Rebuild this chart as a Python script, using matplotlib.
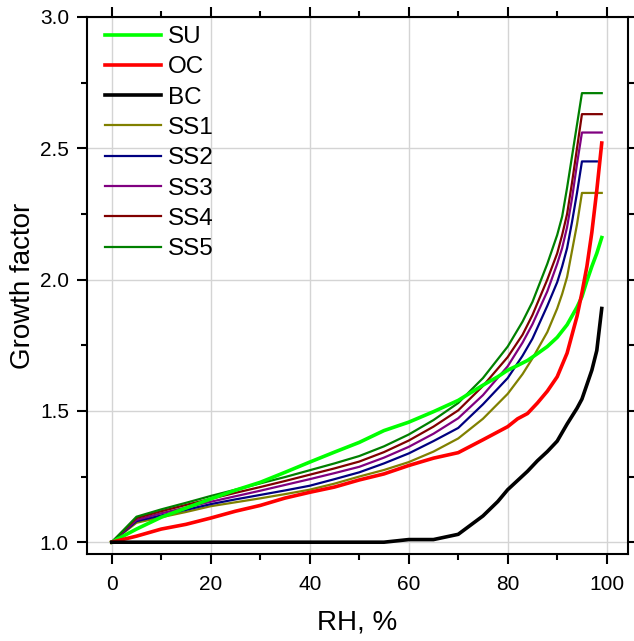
import numpy as np
import matplotlib
matplotlib.use('Agg')
import matplotlib.pyplot as plt
from matplotlib.ticker import MultipleLocator

plt.rcParams['font.family'] = ['Liberation Sans', 'DejaVu Sans']

# ===============================================================================
# growth factor vs relative humidity

rh_ae = [0, 5, 10, 15, 20, 25, 30, 35, 40, 45, 50, 55, 60, 65, 70, 75, 78, 80, 82, 84, 86,
         88, 90, 92, 94, 95, 96, 97, 98, 99]
su = [1.0, 1.05, 1.095, 1.13, 1.165, 1.198, 1.228, 1.266, 1.305, 1.343, 1.38, 1.425, 1.457,
      1.497, 1.54, 1.598, 1.63, 1.655, 1.673, 1.692, 1.718, 1.745, 1.78, 1.828, 1.895,
      1.935, 1.995, 2.05, 2.1, 2.16]
oc = [1.0, 1.023, 1.05, 1.068, 1.092, 1.118, 1.14, 1.168, 1.19, 1.21, 1.237, 1.26, 1.292,
      1.32, 1.341, 1.39, 1.42, 1.44, 1.47, 1.49, 1.53, 1.575, 1.63, 1.72, 1.86,
      1.95, 2.05, 2.18, 2.34, 2.52]
bc = [1.0, 1.0, 1.0, 1.0, 1.0, 1.0, 1.0, 1.0, 1.0, 1.0, 1.0, 1.0, 1.01, 1.01, 1.03, 1.10,
      1.155, 1.2, 1.235, 1.27, 1.31, 1.345, 1.385, 1.45, 1.51, 1.545, 1.60, 1.655, 1.73, 1.89]

rh_ss = [0, 5, 10, 15, 20, 25, 30, 35, 40, 45, 50, 55, 60, 65, 70, 75, 80, 83, 85, 88, 90,
         91, 92, 93, 94, 95, 99]
rh_ss2 = rh_ss[:-1] + [98]
ss1 = [1.0, 1.074, 1.095, 1.115, 1.137, 1.152, 1.167, 1.183, 1.2, 1.223, 1.25, 1.275, 1.305,
       1.345, 1.395, 1.47, 1.565, 1.64, 1.70, 1.80, 1.89, 1.945, 2.01, 2.11, 2.21, 2.33, 2.33]
ss2 = [1.0, 1.08, 1.102, 1.123, 1.145, 1.163, 1.18, 1.197, 1.215, 1.24, 1.266, 1.3, 1.338,
       1.385, 1.435, 1.525, 1.625, 1.71, 1.775, 1.9, 1.99, 2.05, 2.12, 2.22, 2.33, 2.45, 2.45]
ss3 = [1.0, 1.085, 1.11, 1.132, 1.154, 1.175, 1.196, 1.218, 1.24, 1.263, 1.287, 1.322, 1.363,
       1.413, 1.472, 1.56, 1.67, 1.76, 1.83, 1.955, 2.06, 2.12, 2.2, 2.31, 2.44, 2.56, 2.56]
ss4 = [1.0, 1.092, 1.118, 1.142, 1.165, 1.188, 1.21, 1.233, 1.257, 1.281, 1.307, 1.343, 1.387,
       1.44, 1.502, 1.595, 1.705, 1.79, 1.865, 2.0, 2.1, 2.17, 2.25, 2.37, 2.5, 2.63, 2.63]
ss5 = [1.0, 1.097, 1.125, 1.15, 1.176, 1.2, 1.224, 1.248, 1.274, 1.3, 1.328, 1.365, 1.41,
       1.465, 1.53, 1.625, 1.745, 1.84, 1.915, 2.06, 2.17, 2.24, 2.35, 2.47, 2.59, 2.71, 2.71]

# ===============================================================================

fig = plt.figure(figsize=(6.34, 6.41), dpi=100)
ax = fig.add_axes([0.1372, 0.1357, 0.8533, 0.8378])

ax.grid(True, color='#d4d4d4', lw=1.0, zorder=0)
ax.set_axisbelow(True)

ax.plot(rh_ae, su, c='#00ff00', lw=2.6, label='SU', zorder=3)
ax.plot(rh_ae, oc, c='#ff0000', lw=2.6, label='OC', zorder=3)
ax.plot(rh_ae, bc, c='black', lw=2.6, label='BC', zorder=3)
ax.plot(rh_ss, ss1, c='#808000', lw=1.6, label='SS1', zorder=2)
ax.plot(rh_ss2, ss2, c='#000080', lw=1.6, label='SS2', zorder=2)
ax.plot(rh_ss, ss3, c='#800080', lw=1.6, label='SS3', zorder=2)
ax.plot(rh_ss, ss4, c='#800000', lw=1.6, label='SS4', zorder=2)
ax.plot(rh_ss, ss5, c='#008000', lw=1.6, label='SS5', zorder=2)

ax.set_xlim(-5, 104.3)
ax.set_ylim(0.955, 3.0)

ax.xaxis.set_major_locator(MultipleLocator(20))
ax.xaxis.set_minor_locator(MultipleLocator(10))
ax.yaxis.set_major_locator(MultipleLocator(0.5))
ax.yaxis.set_minor_locator(MultipleLocator(0.25))

ax.tick_params(which='both', direction='out', top=True, right=True, width=1.5)
ax.tick_params(which='major', length=7, labelsize=15, pad=6)
ax.tick_params(axis='x', which='major', pad=8)
ax.tick_params(which='minor', length=4)
for s in ax.spines.values():
    s.set_linewidth(1.5)

ax.set_xlabel('RH, %', fontsize=20, labelpad=11)
ax.set_ylabel('Growth factor', fontsize=20, labelpad=3)

ax.legend(loc='upper left', bbox_to_anchor=(0.033, 0.983), frameon=False, fontsize=17.5,
          handlelength=2.3, handletextpad=0.3, labelspacing=0.34, borderpad=0, borderaxespad=0)

fig.savefig('out.png', dpi=100)
